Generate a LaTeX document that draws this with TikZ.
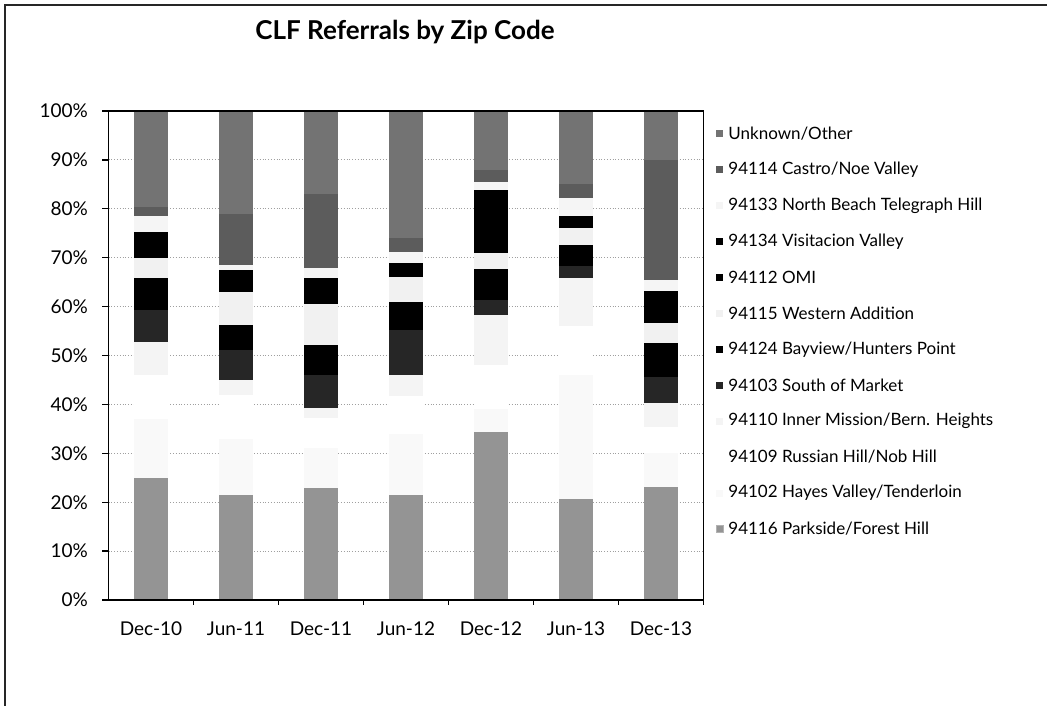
\documentclass[tikz,border=0pt]{standalone}
\usepackage{fontspec}
\setmainfont{Lato}
\usetikzlibrary{positioning}
\tikzset{
	gridline/.style={gray!75, dotted, line width=0.8pt},
	plotframe/.style={black, line width=1.3pt},
	pageframe/.style={black!85, line width=1.3pt},
	lab/.style={inner sep=0pt, font=\fontsize{17}{20}\selectfont},
	axlab/.style={inner sep=0pt, font=\fontsize{19}{22}\selectfont},
	legsq/.style={minimum size=7pt, inner sep=0pt},
	ser1/.style={fill=black!42},
	ser2/.style={fill=gray!5},
	ser3/.style={fill=white},
	ser4/.style={fill=gray!9},
	ser5/.style={fill=black!85},
	ser6/.style={fill=black},
	ser7/.style={fill=gray!11},
	ser8/.style={fill=black},
	ser9/.style={fill=black},
	ser10/.style={fill=gray!8},
	ser11/.style={fill=black!64},
	ser12/.style={fill=black!55},
}
\begin{document}
\begin{tikzpicture}[x=1pt,y=-1pt]
\useasboundingbox (0,0) rectangle (1047,706);
\draw[pageframe] (5,706) -- (5,5) -- (1047,5);

\node[font=\bfseries\fontsize{26}{30}\selectfont] (title) at (405,32) {CLF Referrals by Zip Code};

% percent scale
\begin{scope}[shift={(0,600)},y=4.89pt]
\foreach \v in {10,20,...,90}
	\draw[gridline] (108.5,\v) -- (703.5,\v);

\foreach \tops [count=\i] in {
	{25,37,46,52.8,59.3,65.8,69.9,72.5,75.3,78.5,80.4,100},
	{21.5,33,42,45,51.1,56.2,63,65.2,67.5,68.5,79,100},
	{22.9,31,37.2,39.3,46,52.1,60.5,63,65.8,67.9,83,100},
	{21.5,34,41.7,46,55.2,61,66,67.5,69,71.2,74,100},
	{34.4,39,48,58.3,61.4,67.7,71,76,83.8,85.5,88,100},
	{20.7,46,56,65.8,68.3,72.6,76,77.2,78.5,82.2,85,100},
	{23.1,30,35.4,40.3,45.7,52.5,56.6,60,63.2,65.4,90,100}}
{
	\pgfmathsetmacro\xc{151+85*(\i-1)}
	\foreach \t [count=\k, remember=\t as \b (initially 0)] in \tops
		\fill[ser\k] (\xc-17,\b) rectangle (\xc+17,\t);
}

\draw[plotframe] (108.5,0) rectangle (703.5,100);
\foreach \v in {0,10,...,100}{
	\draw[plotframe] (102,\v) -- (108.5,\v);
	\node[axlab,anchor=east] (y\v) at (88,\v) {\v\%};
}
\foreach \k in {1,...,7}
	\draw[plotframe] (108.5+85*\k,0) -- (108.5+85*\k,-1);
\end{scope}

\foreach \c [count=\i] in {Dec-10,Jun-11,Dec-11,Jun-12,Dec-12,Jun-13,Dec-13}
	\node[axlab] (x\i) at ({151+85*(\i-1)},629) {\c};

% legend
\foreach \name [count=\k] in {{Unknown/Other},{94114 Castro/Noe Valley},{94133 North Beach Telegraph Hill},
	{94134 Visitacion Valley},{94112 OMI},{94115 Western Addition},{94124 Bayview/Hunters Point},
	{94103 South of Market},{94110 Inner Mission/Bern. Heights},{94109 Russian Hill/Nob Hill},
	{94102 Hayes Valley/Tenderloin},{94116 Parkside/Forest Hill}}
{
	\pgfmathtruncatemacro\s{13-\k}
	\node[legsq,ser\s] (sq\k) at (719.5,{134+35.9*(\k-1)}) {};
	\node[lab,right=5pt of sq\k] (leg\k) {\name};
}
\draw[gray!60, line width=0.5pt] (sq12.south west) rectangle (sq12.north east);
\end{tikzpicture}
\end{document}
